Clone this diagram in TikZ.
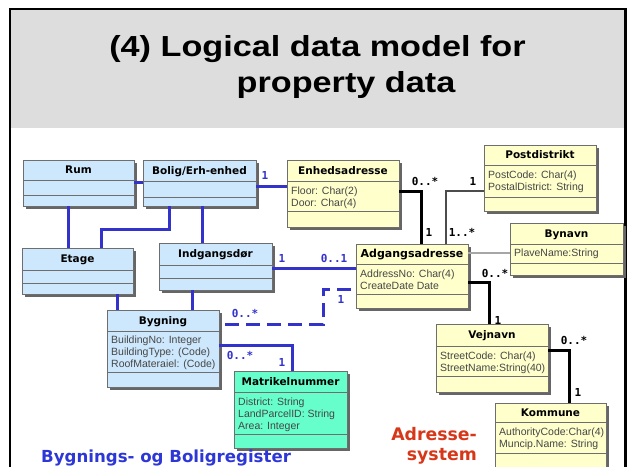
\documentclass[tikz,border=0pt]{standalone}
\usepackage{fontspec}
\usepackage{graphicx}
\setmainfont{Liberation Sans}
\newfontfamily\hdrfont{DejaVu Sans}
\newfontfamily\multfont{DejaVu Sans Mono}
\usetikzlibrary{shadows,calc}

\definecolor{bluebox}{RGB}{205,232,252}
\definecolor{yellowbox}{RGB}{255,255,204}
\definecolor{greenbox}{RGB}{102,255,204}
\definecolor{umlblue}{RGB}{51,51,204}
\definecolor{bandgray}{RGB}{221,221,221}
\definecolor{boxedge}{RGB}{110,110,110}
\definecolor{attrgray}{RGB}{70,70,70}
\definecolor{regblue}{RGB}{45,55,215}
\definecolor{adrred}{RGB}{215,55,25}

\tikzset{
  clsbox/.style={draw=boxedge, line width=0.8pt, inner sep=0pt, outer sep=0pt,
    drop shadow={shadow xshift=2.5pt, shadow yshift=-2.5pt, fill=black!60, opacity=1}},
  divline/.style={draw=boxedge, line width=0.8pt},
  hdr/.style={font=\hdrfont\bfseries\fontsize{10.5}{12}\selectfont, inner sep=0pt,
    text height=7.6pt, text depth=0pt},
  attr/.style={font=\fontsize{10.5}{11.8}\selectfont, text=attrgray, align=left,
    inner sep=0pt, anchor=north west},
  mult/.style={font=\multfont\bfseries\fontsize{11}{12}\selectfont, inner sep=0pt,
    text height=8pt, text depth=0pt},
  bluelink/.style={draw=umlblue, line width=3pt},
  blacklink/.style={draw=black, line width=3pt},
  graylink/.style={draw=black!70, line width=1.6pt},
  lightlink/.style={draw=black!35, line width=1.6pt},
  titletext/.style={font=\bfseries\fontsize{29}{34}\selectfont, inner sep=0pt, anchor=base},
  bigword/.style={font=\hdrfont\bfseries\fontsize{17.3}{20}\selectfont, inner sep=0pt}
}

% #1 name, #2 x, #3 y, #4 w, #5 h, #6 header height, #7 second divider, #8 fill, #9 title
\newcommand\classbox[9]{%
  \node[clsbox, fill=#8, minimum width=#4pt, minimum height=#5pt, anchor=north west] (#1) at (#2,#3) {};
  \draw[divline] ([yshift=-#6pt]#1.north west) -- ([yshift=-#6pt]#1.north east);
  \draw[divline] ([yshift=-#7pt]#1.north west) -- ([yshift=-#7pt]#1.north east);
  \node[hdr] (#1-t) at ([yshift={-0.5*#6pt}]#1.north) {#9};
}

\begin{document}
\begin{tikzpicture}[x=1pt,y=-1pt]
\useasboundingbox (0,0) rectangle (629,466);
\clip (0,0) rectangle (629,466);
\fill[white] (0,0) rectangle (629,466);

% header band and frame
\fill[bandgray] (10,9) rectangle (625.5,128);
\draw[line width=2.5pt] (10,480) -- (10,9) -- (625.5,9) -- (625.5,480);

\node[titletext] (title1) at (317.5,56) {\scalebox{1.18}[1]{(4) Logical data model for}};
\node[titletext] (title2) at (346,92) {\scalebox{1.18}[1]{property data}};

% classes
\classbox{rum}{23}{160}{111}{46}{20}{35}{bluebox}{Rum}
\classbox{bolig}{143}{160}{113}{46}{21}{37}{bluebox}{Bolig/Erh-enhed}
\classbox{enh}{287}{160}{112}{67}{21}{51}{yellowbox}{Enhedsadresse}
\classbox{post}{484}{145}{112}{66}{20}{52}{yellowbox}{Postdistrikt}
\classbox{byn}{510}{223}{113}{52}{21}{40}{yellowbox}{Bynavn}
\classbox{etage}{22}{248}{111}{46}{22}{35}{bluebox}{Etage}
\classbox{indg}{159}{243}{113}{47}{22}{35}{bluebox}{Indgangsdør}
\classbox{adg}{356}{244}{112}{64}{20}{50}{yellowbox}{\fontsize{11}{12}\selectfont Adgangsadresse}
\classbox{byg}{107}{310}{112}{77}{21}{62}{bluebox}{Bygning}
\classbox{matr}{234}{371}{113}{77}{21}{63}{greenbox}{Matrikelnummer}
\classbox{vej}{436}{324}{112}{68}{22}{52}{yellowbox}{Vejnavn}
\classbox{kom}{495}{403}{111}{80}{19}{50}{yellowbox}{Kommune}

% attributes
\node[attr] (enh-a) at ([xshift=4pt,yshift=-27pt]enh.north west) {Floor: Char(2)\\Door: Char(4)};
\node[attr] (post-a) at ([xshift=4pt,yshift=-26pt]post.north west) {PostCode: Char(4)\\PostalDistrict: String};
\node[attr] (byn-a) at ([xshift=4pt,yshift=-26pt]byn.north west) {PlaveName:String};
\node[attr] (adg-a) at ([xshift=4pt,yshift=-26pt]adg.north west) {AddressNo: Char(4)\\CreateDate Date};
\node[attr] (byg-a) at ([xshift=4pt,yshift=-26pt]byg.north west) {BuildingNo: Integer\\BuildingType: (Code)\\RoofMateraiel: (Code)};
\node[attr] (matr-a) at ([xshift=4pt,yshift=-27pt]matr.north west) {District: String\\LandParcelID: String\\Area: Integer};
\node[attr] (vej-a) at ([xshift=4pt,yshift=-28pt]vej.north west) {StreetCode: Char(4)\\StreetName:String(40)};
\node[attr] (kom-a) at ([xshift=4pt,yshift=-25pt]kom.north west) {AuthorityCode:Char(4)\\Muncip.Name: String};

% blue connectors
\draw[bluelink] (rum.east |- 0,182) -- (bolig.west |- 0,182);
\draw[bluelink] (bolig.east |- 0,186) -- (enh.west |- 0,186);
\draw[bluelink] (bolig.south -| 169,0) -- (169,229) -- (101,229) -- (etage.north -| 101,0);
\draw[bluelink] (bolig.south -| 202,0) -- (indg.north -| 202,0);
\draw[bluelink] (rum.south -| 68,0) -- (etage.north -| 68,0);
\draw[bluelink] (indg.east |- 0,268) -- (adg.west |- 0,268);
\draw[bluelink] (etage.south -| 117,0) -- (byg.north -| 117,0);
\draw[bluelink] (indg.south -| 192,0) -- (byg.north -| 192,0);
\draw[bluelink] (byg.east |- 0,345) -- (292,345) -- (matr.north -| 292,0);
\draw[bluelink, dash pattern=on 14pt off 7pt, dash phase=15pt]
  (byg.east |- 0,324) -- (323,324) -- (323,289) -- (adg.west |- 0,289);

% black / gray connectors
\draw[blacklink] (enh.east |- 0,191) -- (421,191) -- (adg.north -| 421,0);
\draw[graylink] (post.west |- 0,191) -- (446,191) -- (adg.north -| 446,0);
\draw[lightlink] (adg.east |- 0,253) -- (byn.west |- 0,253);
\draw[blacklink] (adg.east |- 0,282) -- (489,282) -- (vej.north -| 489,0);
\draw[blacklink] (vej.east |- 0,350) -- (569,350) -- (kom.north -| 569,0);

% multiplicities
\node[mult, text=umlblue] (m1) at (265,175) {1};
\node[mult, text=umlblue] (m2) at (282,258) {1};
\node[mult, text=umlblue] (m3) at (334,258) {0..1};
\node[mult, text=umlblue] (m4) at (245,313) {0..*};
\node[mult, text=umlblue] (m5) at (341,299) {1};
\node[mult, text=umlblue] (m6) at (240,355) {0..*};
\node[mult, text=umlblue] (m7) at (282,362) {1};
\node[mult] (m8) at (425,181) {0..*};
\node[mult] (m9) at (429,232) {1};
\node[mult] (m10) at (473,181) {1};
\node[mult] (m11) at (462,232) {1..*};
\node[mult] (m12) at (495,273) {0..*};
\node[mult] (m13) at (498,320) {1};
\node[mult] (m14) at (574,340) {0..*};
\node[mult] (m15) at (578,392) {1};

% system labels
\node[bigword, font=\hdrfont\bfseries\fontsize{16.6}{20}\selectfont, text=regblue, anchor=base west] (reg) at (41,462) {Bygnings- og Boligregister};
\node[bigword, text=adrred, anchor=base east] (adr1) at (477,440) {Adresse-};
\node[bigword, text=adrred, anchor=base east] (adr2) at (477,460.5) {system};
\end{tikzpicture}
\end{document}
